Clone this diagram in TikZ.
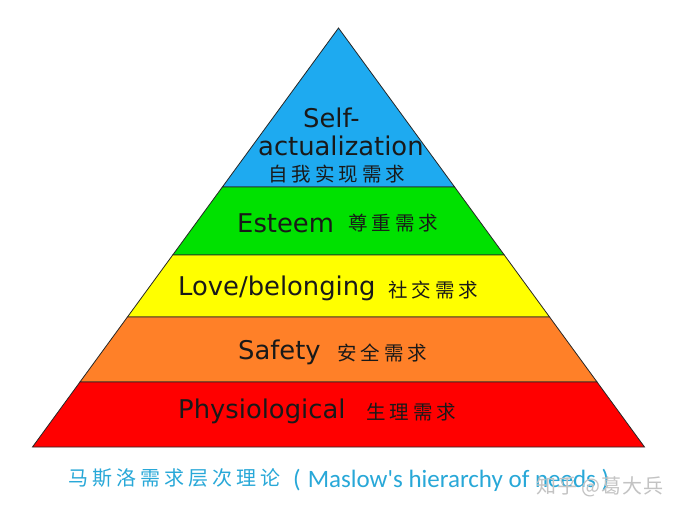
\documentclass[tikz,border=0pt]{standalone}
\usepackage{fontspec}
\setmainfont{DejaVu Sans}
\newfontfamily\cjk{Noto Sans CJK SC}
\newfontfamily\capfont{Carlito}
\usetikzlibrary{calc}
\definecolor{cBlue}{RGB}{30,170,240}
\definecolor{cGreen}{RGB}{0,225,0}
\definecolor{cYellow}{RGB}{255,255,0}
\definecolor{cOrange}{RGB}{255,128,40}
\definecolor{cRed}{RGB}{255,0,0}
\definecolor{cCap}{RGB}{40,168,216}
\definecolor{cWm}{RGB}{195,195,195}
\tikzset{
  layer/.style={draw=black!85, line width=0.8pt, line join=miter},
  en/.style={inner sep=0pt, anchor=base west, font=\fontsize{25.8}{28}\selectfont, text=black!90},
  zh/.style={inner sep=0pt, anchor=west, font=\cjk\fontsize{19.5}{22}\selectfont, text=black!90},
}
\newcommand\gapc{\hspace{4pt}}
\begin{document}
\begin{tikzpicture}[x=1pt,y=-1pt]
\useasboundingbox (0,0) rectangle (680,514);
\fill[white] (0,0) rectangle (680,514);
\coordinate (A) at (338.5,28);
\coordinate (BL) at (32.5,447);
\coordinate (BR) at (644.5,447);
\coordinate (L1) at ($(A)!0.3795!(BL)$);
\coordinate (R1) at ($(A)!0.3795!(BR)$);
\coordinate (L2) at ($(A)!0.5418!(BL)$);
\coordinate (R2) at ($(A)!0.5418!(BR)$);
\coordinate (L3) at ($(A)!0.6897!(BL)$);
\coordinate (R3) at ($(A)!0.6897!(BR)$);
\coordinate (L4) at ($(A)!0.8449!(BL)$);
\coordinate (R4) at ($(A)!0.8449!(BR)$);
\filldraw[layer, fill=cBlue] (A) -- (R1) -- (L1) -- cycle;
\filldraw[layer, fill=cGreen] (L1) -- (R1) -- (R2) -- (L2) -- cycle;
\filldraw[layer, fill=cYellow] (L2) -- (R2) -- (R3) -- (L3) -- cycle;
\filldraw[layer, fill=cOrange] (L3) -- (R3) -- (R4) -- (L4) -- cycle;
\filldraw[layer, fill=cRed] (L4) -- (R4) -- (BR) -- (BL) -- cycle;
% texts
\node[en] (self) at (303,127) {Self-};
\node[en] (act) at (258,155) {actualization};
\node[zh] (actz) at (268,174) {自\gapc 我\gapc 实\gapc 现\gapc 需\gapc 求};
\node[en] (est) at (237,232) {Esteem};
\node[zh] (estz) at (348,223) {尊\gapc 重\gapc 需\gapc 求};
\node[en] (love) at (178,295) {Love/belonging};
\node[zh] (lovez) at (388,290) {社\gapc 交\gapc 需\gapc 求};
\node[en] (saf) at (238,359) {Safety};
\node[zh] (safz) at (337,353) {安\gapc 全\gapc 需\gapc 求};
\node[en] (phy) at (178,418) {Physiological};
\node[zh] (phyz) at (366,412) {生\gapc 理\gapc 需\gapc 求};
% caption
\node[inner sep=0pt, anchor=west, text=cCap, font=\cjk\fontsize{20}{22}\selectfont] (capz) at (68,478) {马\hspace{4pt}斯\hspace{4pt}洛\hspace{4pt}需\hspace{4pt}求\hspace{4pt}层\hspace{4pt}次\hspace{4pt}理\hspace{4pt}论};
\node[inner sep=0pt, anchor=base west, text=cCap, font=\capfont\fontsize{25}{27}\selectfont] (cape) at (293,487) {(\hspace{7pt}Maslow's hierarchy of needs )};
% watermark
\node[inner sep=0pt, anchor=west, text=cWm, font=\cjk\fontsize{20}{22}\selectfont] (wm) at (536,487) {知\hspace{1pt}乎\hspace{4pt}@\hspace{1pt}葛\hspace{1pt}大\hspace{1pt}兵};
\end{tikzpicture}
\end{document}
